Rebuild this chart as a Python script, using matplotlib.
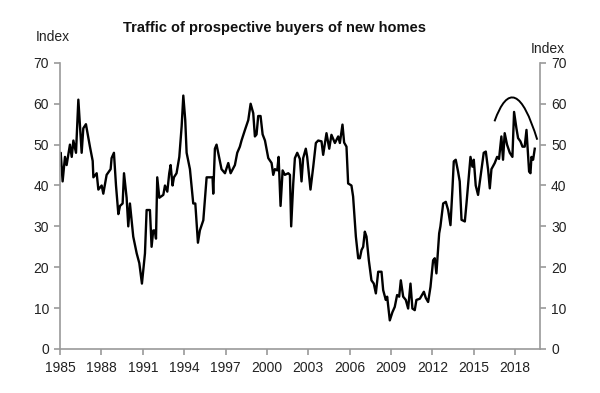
import matplotlib
matplotlib.use("Agg")
import matplotlib.pyplot as plt
from matplotlib.path import Path
from matplotlib.patches import PathPatch

plt.rcParams['font.family'] = ['Liberation Sans', 'DejaVu Sans']

### traffic index (decimal year, index)
years = [
    1985.00, 1985.05, 1985.19, 1985.36, 1985.48, 1985.72, 1985.85, 1985.97, 1986.16, 1986.33,
    1986.57, 1986.69, 1986.88, 1987.17, 1987.37, 1987.42, 1987.66, 1987.78, 1988.02, 1988.14,
    1988.38, 1988.67, 1988.74, 1988.91, 1989.06, 1989.23, 1989.35, 1989.54, 1989.64, 1989.83,
    1989.95, 1990.07, 1990.31, 1990.56, 1990.75, 1990.94, 1991.16, 1991.28, 1991.52, 1991.64,
    1991.76, 1991.88, 1991.96, 1992.05, 1992.20, 1992.49, 1992.61, 1992.78, 1992.92, 1993.02,
    1993.16, 1993.26, 1993.45, 1993.65, 1993.82, 1993.94, 1994.08, 1994.18, 1994.42, 1994.66,
    1994.81, 1995.00, 1995.14, 1995.39, 1995.63, 1995.87, 1996.06, 1996.11, 1996.23, 1996.35,
    1996.47, 1996.71, 1996.96, 1997.20, 1997.37, 1997.68, 1997.85, 1998.04, 1998.16, 1998.41,
    1998.65, 1998.82, 1999.01, 1999.13, 1999.25, 1999.37, 1999.54, 1999.69, 1999.86, 2000.10,
    2000.34, 2000.46, 2000.58, 2000.75, 2000.85, 2000.99, 2001.14, 2001.30, 2001.55, 2001.67,
    2001.76, 2001.91, 2002.03, 2002.20, 2002.39, 2002.51, 2002.63, 2002.82, 2002.92, 2003.16,
    2003.36, 2003.55, 2003.72, 2003.96, 2004.08, 2004.32, 2004.52, 2004.68, 2004.93, 2005.17,
    2005.29, 2005.48, 2005.60, 2005.77, 2005.89, 2006.13, 2006.25, 2006.45, 2006.62, 2006.74,
    2006.86, 2006.98, 2007.10, 2007.22, 2007.39, 2007.58, 2007.75, 2007.90, 2008.07, 2008.31,
    2008.43, 2008.62, 2008.72, 2008.91, 2009.10, 2009.27, 2009.44, 2009.59, 2009.71, 2009.88,
    2010.07, 2010.24, 2010.41, 2010.55, 2010.72, 2010.84, 2011.09, 2011.38, 2011.52, 2011.69,
    2011.86, 2012.05, 2012.17, 2012.29, 2012.49, 2012.58, 2012.78, 2012.97, 2013.14, 2013.31,
    2013.45, 2013.55, 2013.69, 2013.86, 2013.98, 2014.11, 2014.35, 2014.47, 2014.66, 2014.76,
    2014.90, 2015.00, 2015.14, 2015.31, 2015.55, 2015.72, 2015.87, 2016.04, 2016.16, 2016.28,
    2016.52, 2016.69, 2016.83, 2017.00, 2017.12, 2017.24, 2017.41, 2017.61, 2017.80, 2017.92,
    2018.09, 2018.21, 2018.38, 2018.53, 2018.69, 2018.82, 2018.94, 2019.01, 2019.11, 2019.18,
    2019.30, 2019.42,
]
traffic = [
    45, 48, 41, 47, 45, 50, 47, 51, 48, 61,
    48, 54, 55, 49.5, 46, 42, 43, 39, 40, 38,
    42.6, 44, 46.7, 48, 40, 33, 35, 35.6, 43, 37,
    30, 35.6, 27.5, 23.4, 21, 16, 23.4, 34, 34, 25,
    29, 29, 27, 42, 37, 37.7, 40, 38.5, 43, 45,
    40, 42, 43, 47, 54.5, 62, 56, 48, 44, 35.6,
    35.6, 26, 29, 31.5, 42, 42, 42, 38, 49, 50,
    48, 44, 43, 45.5, 43, 45, 48, 49.5, 51, 53.6,
    56, 60, 57.7, 52, 52.5, 57, 57, 52.5, 51, 46.7,
    45.5, 42.6, 44, 43.7, 47, 35, 43.7, 42.6, 43, 42.6,
    30, 40.5, 46.7, 48, 46.5, 41, 46.7, 49, 47, 39,
    44.6, 50.4, 51, 50.8, 47.5, 52.8, 49, 52.4, 50.4, 52,
    50.4, 54.9, 50.5, 49.5, 40.5, 40, 37.3, 27.5, 22.2, 22.2,
    24.2, 25, 28.7, 27.5, 21.7, 16.8, 16, 13.6, 18.9, 18.9,
    14.4, 12, 12.8, 7, 9, 10.3, 13.2, 12.8, 16.8, 12.8,
    12, 9.9, 16, 9.9, 9.5, 12, 12.3, 14, 12.5, 11.5,
    15.2, 21.7, 22.2, 18.5, 28.3, 30, 35.6, 36, 34, 30.3,
    39, 45.9, 46.3, 43.4, 41, 31.6, 31.2, 35.6, 43, 47,
    44.6, 46.3, 40, 37.7, 43.8, 48, 48.3, 43.8, 39.3, 44,
    45.5, 47, 46.5, 52, 46.3, 52.8, 50, 48, 47, 58,
    54, 51.6, 50.8, 49.5, 49.5, 53.6, 47, 43.4, 43, 47,
    46.3, 49,
]

xticks = list(range(1985, 2019, 3))
yticks = [0, 10, 20, 30, 40, 50, 60, 70]

# hand-drawn arc over the recent peak: start, peak, end
arc_start = (2016.5, 55.7)
arc_peak = (2018.0, 61.4)
arc_end = (2019.6, 51.2)

axis_grey = "#9a9a9a"

fig = plt.figure(figsize=(6, 3.93), dpi=100)
ax = fig.add_axes([0.1, 0.112, 0.8, 0.728])

ax.plot(years, traffic, color="black", lw=1.7, solid_joinstyle="round")

# quadratic bezier through the three arc points
ctrl = (2 * arc_peak[0] - (arc_start[0] + arc_end[0]) / 2,
        2 * arc_peak[1] - (arc_start[1] + arc_end[1]) / 2)
arc = Path([arc_start, ctrl, arc_end], [Path.MOVETO, Path.CURVE3, Path.CURVE3])
ax.add_patch(PathPatch(arc, facecolor="none", edgecolor="black", lw=1.4))

ax.set_xlim(1985, 2019.8)
ax.set_ylim(0, 70)
ax.set_xticks(xticks)
ax.set_yticks(yticks)

ax.spines["top"].set_visible(False)
for side in ["left", "right", "bottom"]:
    ax.spines[side].set_color(axis_grey)
    ax.spines[side].set_linewidth(1.2)

ax.tick_params(axis="both", which="both", direction="out", length=4, width=1.2,
               color=axis_grey, labelsize=10, labelcolor="#222222")
ax.tick_params(axis="y", left=True, right=True, labelleft=True, labelright=True, pad=4)
ax.tick_params(axis="x", pad=5)

fig.text(0.458, 0.93, "Traffic of prospective buyers of new homes",
         ha="center", va="center", fontsize=10.5, fontweight="bold", color="#111111")
fig.text(0.088, 0.905, "Index", ha="center", va="center", fontsize=10, color="#222222")
fig.text(0.913, 0.876, "Index", ha="center", va="center", fontsize=10, color="#222222")

fig.savefig("out.png", dpi=100)
